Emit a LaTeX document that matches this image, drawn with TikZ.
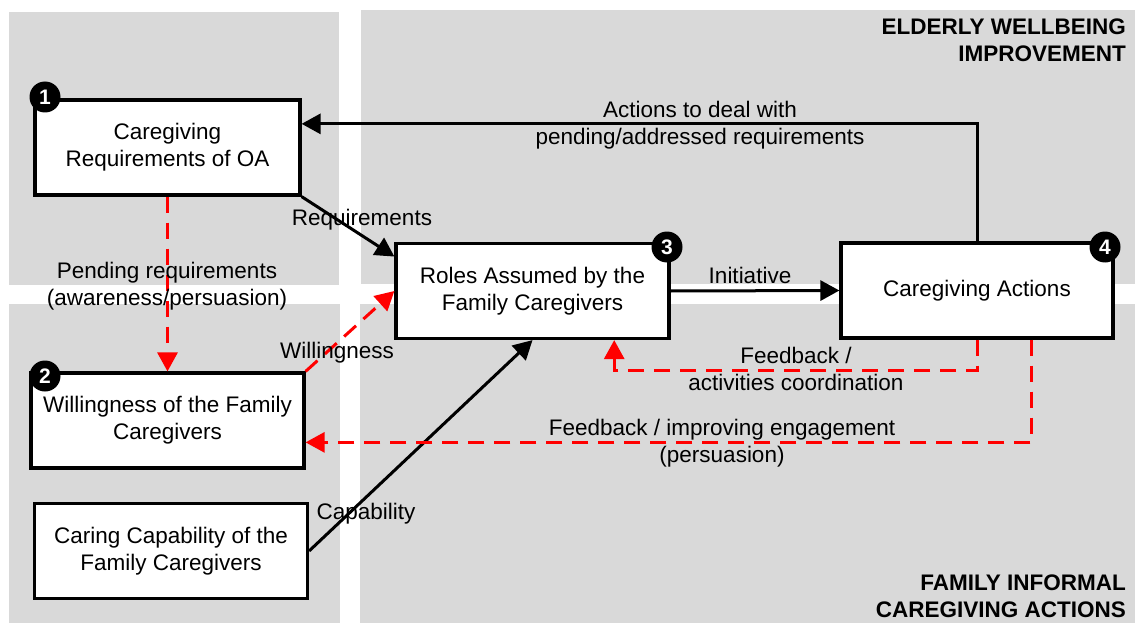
\documentclass[tikz,border=0pt]{standalone}
\usepackage{fontspec}
\setmainfont{Liberation Sans}
\usetikzlibrary{arrows.meta}

\definecolor{zonegray}{RGB}{217,217,217}

\begin{document}
\begin{tikzpicture}[x=1pt,y=-1pt,
  every node/.style={font=\fontsize{22.5}{27}\selectfont},
  zone/.style={fill=zonegray},
  box/.style={draw,line width=3.2pt,fill=white,minimum width=273pt,minimum height=95pt,align=center,inner sep=0pt},
  badge/.style={circle,fill=black,text=white,inner sep=0pt,minimum size=31pt,font=\fontsize{21}{21}\selectfont\bfseries},
  flow/.style={line width=3pt,-{Triangle[length=19pt,width=20pt]}},
  fb/.style={flow,red,dash pattern=on 16pt off 10pt},
  zonetitle/.style={align=right,inner sep=0pt,font=\fontsize{22.5}{27}\selectfont\bfseries}]
  \useasboundingbox (0,0) rectangle (1135,623);
  % the four zones
  \fill[zone] (9,12) rectangle (339,285);
  \fill[zone] (361,10) rectangle (1135,284);
  \fill[zone] (9,304) rectangle (340,623);
  \fill[zone] (360,304) rectangle (1135,623);
  \node[zonetitle,anchor=north east] (tTop) at (1126,19) {ELDERLY WELLBEING\\IMPROVEMENT};
  \node[zonetitle,anchor=south east] (tBot) at (1126,618) {FAMILY INFORMAL\\CAREGIVING ACTIONS};

  % boxes
  \node[box,minimum width=265pt] (b1) at (167.5,147.5) {Caregiving\\Requirements of OA};
  \node[box] (b2) at (167.5,420.5) {Willingness of the Family\\Caregivers};
  \node[box] (b3) at (532.5,291) {Roles Assumed by the\\Family Caregivers};
  \node[box,minimum width=272pt] (b4) at (977,290.5) {Caregiving Actions};
  \node[box] (b5) at (171,551) {Caring Capability of the\\Family Caregivers};
  \node[badge] (n1) at (45,97) {1};
  \node[badge] (n2) at (45,376) {2};
  \node[badge] (n3) at (667,247) {3};
  \node[badge] (n4) at (1105,247) {4};

  % connectors
  \draw[flow] (b1.south east) -- (b3.166);
  \draw[fb] (b1.south) -- (b2.north);
  \draw[fb] (b2.north east) -- (b3.west);
  \draw[flow] (b5.east) -- (b3.south);
  \draw[flow] (b3.east) -- (b4.west);
  \draw[flow] (b4.north) |- (b1.10);
  \draw[fb] (b4.south) -- ++(0,31) -| (b3.-31);
  \draw[fb] (b4.-42) |- (b2.-9);

  % labels
  \node[align=center] (lAct) at (700,125) {Actions to deal with\\pending/addressed requirements};
  \node (lReq) at (362,220) {Requirements};
  \node[align=center] (lPend) at (167,286) {Pending requirements\\(awareness/persuasion)};
  \node (lWill) at (337,353) {Willingness};
  \node (lCap) at (366,514) {Capability};
  \node (lInit) at (750,275) {Initiative};
  \node[align=center] (lFbc) at (796,369) {Feedback /\\activities coordination};
  \node[align=center] (lFbe) at (722,443) {Feedback / improving engagement\\(persuasion)};
\end{tikzpicture}
\end{document}
